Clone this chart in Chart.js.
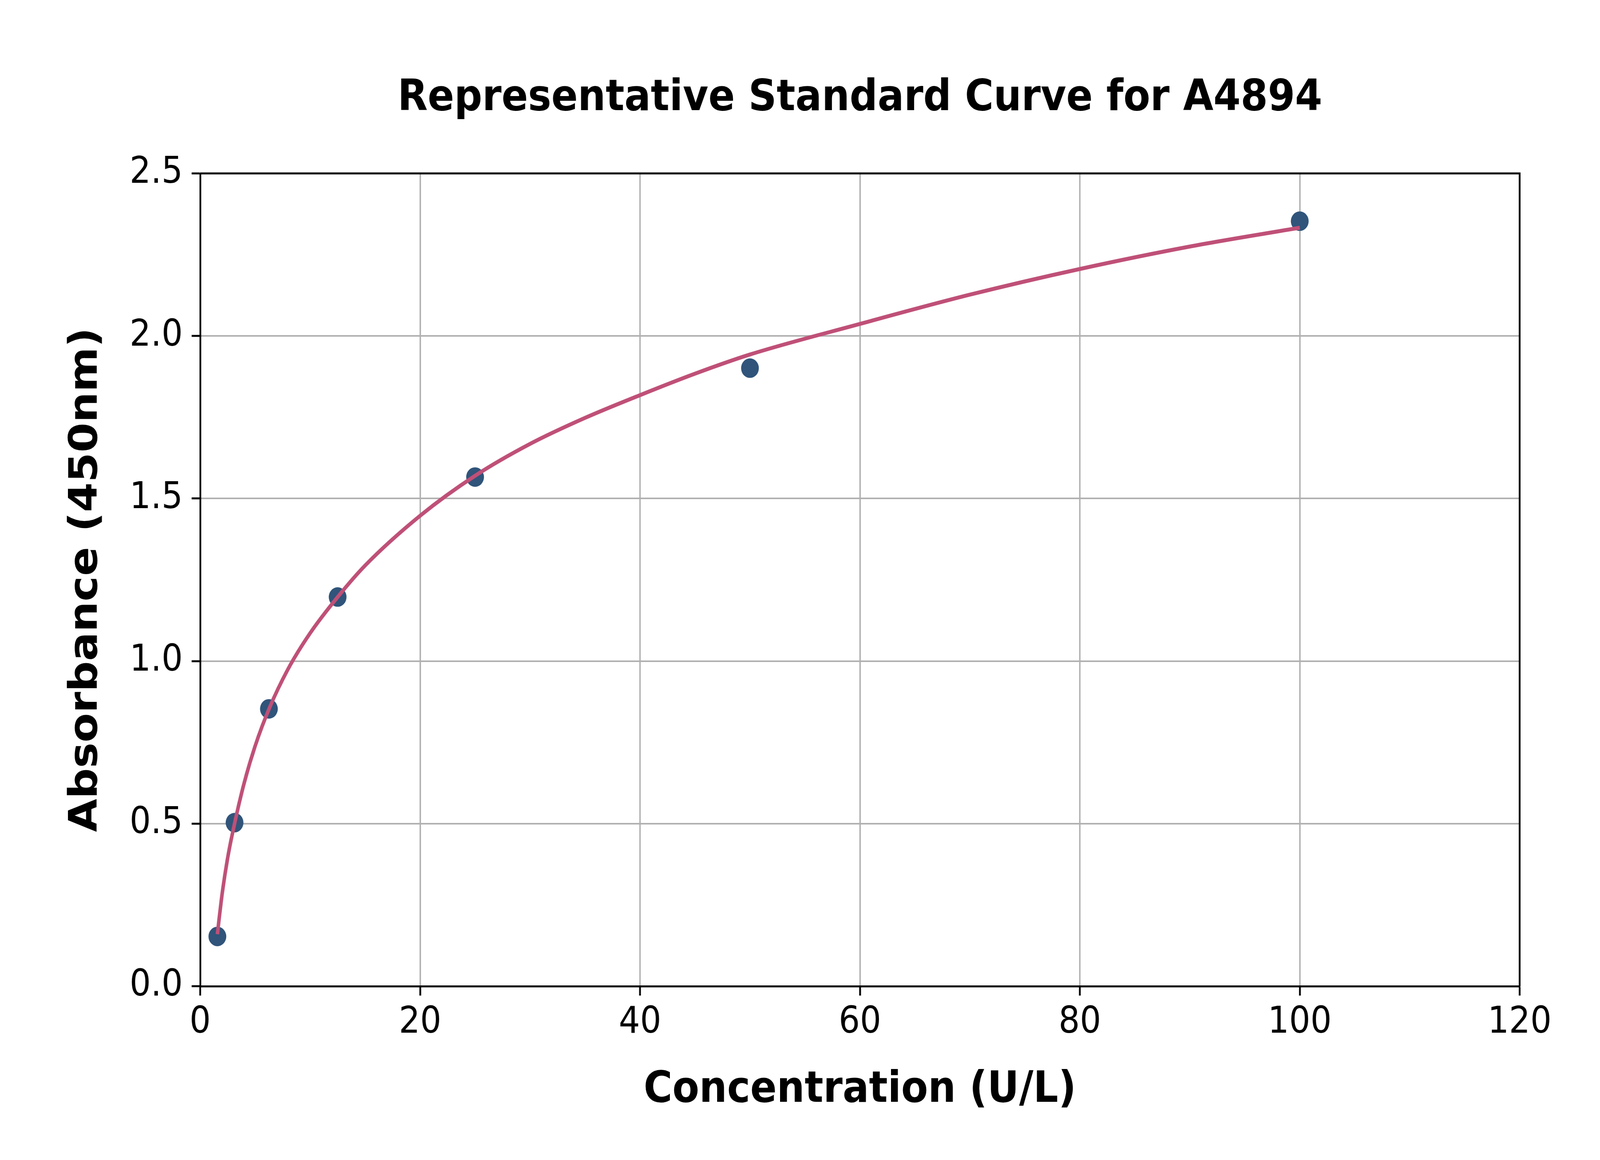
<!DOCTYPE html>
<html>
<head>
<meta charset="utf-8">
<script src="https://cdn.jsdelivr.net/npm/chart.js@4.4.1/dist/chart.umd.min.js"></script>
<style>
  html, body { margin: 0; padding: 0; background: #fff; overflow: hidden; }
  canvas { display: block; transform-origin: 0 0; }
</style>
</head>
<body>
<canvas id="curveChart" width="4500" height="2970"></canvas>
<script>
// standards
const concentrations = [1.5625, 3.125, 6.25, 12.5, 25, 50, 100];
const absorbances = [0.153, 0.503, 0.853, 1.197, 1.566, 1.901, 2.353];

// fitted curve
const curveX = [1.5625, 2, 2.5, 3.125, 4, 5, 6.25, 8, 10, 12.5, 15, 20, 25, 30, 35, 40, 45, 50, 60, 70, 80, 90, 100];
const curveY = [0.16, 0.285, 0.395, 0.50, 0.625, 0.739, 0.852, 0.976, 1.086, 1.197, 1.294, 1.447, 1.57, 1.668, 1.748, 1.818, 1.884, 1.943, 2.037, 2.127, 2.206, 2.275, 2.333];

const xTickLabels = ['0', '20', '40', '60', '80', '100', '120'];
const yTickLabels = ['0.0', '0.5', '1.0', '1.5', '2.0', '2.5'];

const chartTitle = 'Representative Standard Curve for A4894';
const FONT = "'DejaVu Sans', 'Liberation Sans', sans-serif";

// the chart is laid out on a 4500x2970 canvas, then fitted to the window
const canvas = document.getElementById('curveChart');
canvas.style.width = '4500px';
canvas.style.height = '2970px';
canvas.style.transform = `scale(${window.innerWidth / 4500}, ${window.innerHeight / 2970})`;

// matplotlib style box round the plot area, title centred over the axes
const frame = {
    id: 'frame',
    afterDatasetsDraw(chart) {
        const { ctx, chartArea: a } = chart;
        ctx.save();
        ctx.strokeStyle = '#000';
        ctx.lineWidth = 5;
        ctx.beginPath();
        ctx.moveTo(a.left, a.top);
        ctx.lineTo(a.right, a.top);
        ctx.lineTo(a.right, a.bottom);
        ctx.stroke();
        ctx.restore();
    },
    afterDraw(chart) {
        const { ctx, chartArea: a } = chart;
        ctx.save();
        ctx.fillStyle = '#000';
        ctx.font = `bold 110px ${FONT}`;
        ctx.textAlign = 'center';
        ctx.textBaseline = 'middle';
        ctx.fillText(chartTitle, (a.left + a.right) / 2, 253);
        ctx.restore();
    }
};

const curveData = curveX.map((x, i) => ({ x: x, y: curveY[i] }));
const pointData = concentrations.map((x, i) => ({ x: x, y: absorbances[i] }));

new Chart(canvas, {
    type: 'scatter',
    data: {
        datasets: [
            {
                type: 'line',
                data: curveData,
                borderColor: '#bf5077',
                borderWidth: 10,
                pointRadius: 0,
                fill: false,
                cubicInterpolationMode: 'monotone',
                order: 0
            },
            {
                data: pointData,
                backgroundColor: '#30547a',
                borderWidth: 0,
                pointRadius: 25,
                order: 1
            }
        ]
    },
    options: {
        responsive: false,
        animation: false,
        devicePixelRatio: 1,
        layout: { padding: { left: 0, right: 226, top: 444, bottom: 0 } },
        plugins: {
            legend: { display: false },
            tooltip: { enabled: false },
            title: { display: false }
        },
        scales: {
            x: {
                type: 'linear',
                min: 0,
                max: 120,
                afterFit(scale) { scale.height = 445; },
                ticks: {
                    stepSize: 20,
                    color: '#000',
                    font: { family: FONT, size: 94 },
                    padding: 14,
                    maxRotation: 0,
                    callback: (v, i) => xTickLabels[i]
                },
                grid: { color: '#b0b0b0', lineWidth: 4, tickColor: '#000', tickLength: 24, tickWidth: 5 },
                border: { color: '#000', width: 5 },
                title: {
                    display: true,
                    text: 'Concentration (U/L)',
                    color: '#000',
                    font: { family: FONT, size: 110, weight: 'bold' },
                    padding: { top: 0, bottom: 112 }
                }
            },
            y: {
                min: 0,
                max: 2.5,
                afterFit(scale) { scale.width = 563; },
                ticks: {
                    stepSize: 0.5,
                    color: '#000',
                    font: { family: FONT, size: 94 },
                    padding: 25,
                    callback: (v, i) => yTickLabels[i]
                },
                grid: { color: '#b0b0b0', lineWidth: 4, tickColor: '#000', tickLength: 24, tickWidth: 5 },
                border: { color: '#000', width: 5 },
                title: {
                    display: true,
                    text: 'Absorbance (450nm)',
                    color: '#000',
                    font: { family: FONT, size: 110, weight: 'bold' },
                    padding: { top: 177, bottom: 0 }
                }
            }
        }
    },
    plugins: [frame]
});
</script>
</body>
</html>
